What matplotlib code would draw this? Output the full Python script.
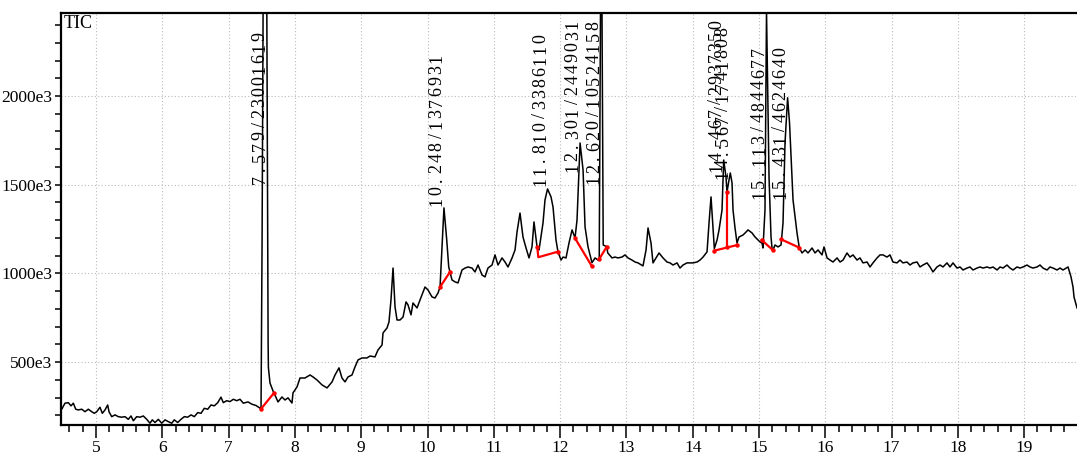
import matplotlib
matplotlib.use('Agg')
import matplotlib.pyplot as plt
from matplotlib.ticker import MultipleLocator, FuncFormatter
from matplotlib.transforms import offset_copy

plt.rcParams['font.family'] = ['Liberation Serif', 'DejaVu Serif']

# retention time (min) and TIC intensity (x1e3 counts)
time_min = [
    4.472, 4.483, 4.532, 4.582, 4.623, 4.658, 4.694, 4.733, 4.784, 4.834, 4.884,
    4.935, 4.974, 5.011, 5.060, 5.095, 5.136, 5.176, 5.196, 5.237, 5.287, 5.336,
    5.388, 5.437, 5.487, 5.528, 5.563, 5.614, 5.664, 5.713, 5.765, 5.814, 5.849,
    5.890, 5.940, 5.991, 6.041, 6.090, 6.142, 6.181, 6.232, 6.282, 6.332, 6.383,
    6.433, 6.483, 6.534, 6.584, 6.633, 6.685, 6.735, 6.784, 6.836, 6.885, 6.920,
    6.971, 7.021, 7.071, 7.122, 7.172, 7.222, 7.293, 7.353, 7.413, 7.489, 7.505,
    7.550, 7.596, 7.600, 7.624, 7.674, 7.685, 7.745, 7.805, 7.850, 7.896, 7.956,
    7.971, 8.032, 8.077, 8.152, 8.228, 8.273, 8.333, 8.409, 8.484, 8.560, 8.605,
    8.665, 8.710, 8.756, 8.801, 8.861, 8.906, 8.952, 9.012, 9.087, 9.133, 9.208,
    9.253, 9.314, 9.329, 9.389, 9.419, 9.449, 9.480, 9.510, 9.540, 9.585, 9.631,
    9.676, 9.706, 9.751, 9.781, 9.842, 9.887, 9.962, 10.008, 10.068, 10.113,
    10.158, 10.189, 10.248, 10.290, 10.320, 10.339, 10.369, 10.415, 10.460,
    10.520, 10.566, 10.611, 10.671, 10.716, 10.762, 10.822, 10.867, 10.912,
    10.973, 11.018, 11.063, 11.124, 11.169, 11.214, 11.275, 11.320, 11.350,
    11.395, 11.440, 11.486, 11.531, 11.576, 11.606, 11.652, 11.682, 11.742,
    11.772, 11.810, 11.863, 11.893, 11.938, 11.968, 12.014, 12.044, 12.089,
    12.134, 12.180, 12.225, 12.255, 12.301, 12.346, 12.376, 12.421, 12.481,
    12.527, 12.572, 12.590, 12.620, 12.650, 12.703, 12.719, 12.783, 12.828,
    12.873, 12.934, 12.979, 13.024, 13.084, 13.130, 13.175, 13.250, 13.296,
    13.326, 13.371, 13.401, 13.446, 13.492, 13.552, 13.612, 13.658, 13.703,
    13.763, 13.808, 13.854, 13.914, 13.959, 14.005, 14.065, 14.110, 14.156,
    14.216, 14.246, 14.276, 14.306, 14.326, 14.367, 14.397, 14.442, 14.467,
    14.502, 14.517, 14.547, 14.567, 14.593, 14.608, 14.638, 14.668, 14.698,
    14.758, 14.804, 14.834, 14.894, 14.940, 14.985, 15.015, 15.045, 15.060,
    15.090, 15.113, 15.151, 15.181, 15.196, 15.211, 15.241, 15.287, 15.332,
    15.362, 15.392, 15.431, 15.460, 15.513, 15.573, 15.608, 15.649, 15.695,
    15.739, 15.800, 15.845, 15.890, 15.950, 15.980, 16.026, 16.071, 16.116,
    16.177, 16.222, 16.267, 16.327, 16.372, 16.418, 16.478, 16.523, 16.569,
    16.629, 16.674, 16.719, 16.780, 16.825, 16.870, 16.930, 16.975, 17.020,
    17.081, 17.126, 17.171, 17.232, 17.277, 17.322, 17.383, 17.428, 17.473,
    17.534, 17.579, 17.624, 17.684, 17.730, 17.775, 17.835, 17.881, 17.926,
    17.986, 18.032, 18.077, 18.137, 18.182, 18.228, 18.288, 18.333, 18.378,
    18.439, 18.484, 18.529, 18.590, 18.635, 18.680, 18.740, 18.786, 18.831,
    18.891, 18.937, 18.982, 19.042, 19.087, 19.133, 19.193, 19.238, 19.283,
    19.344, 19.389, 19.434, 19.495, 19.540, 19.585, 19.661, 19.706, 19.736,
    19.751, 19.796,
]
tic_k = [
    240, 234, 268, 271, 253, 268, 234, 230, 234, 220, 234,
    220, 211, 220, 245, 211, 230, 258, 220, 192, 202, 192,
    189, 192, 177, 196, 169, 192, 189, 196, 177, 155, 174,
    159, 177, 155, 174, 164, 155, 174, 159, 177, 192, 189,
    202, 192, 215, 211, 239, 234, 258, 253, 271, 302, 271,
    282, 277, 290, 282, 290, 268, 275, 262, 255, 236, 1200,
    5000, 600, 470, 382, 333, 326, 275, 303, 286, 298, 269,
    326, 360, 410, 410, 427, 416, 399, 371, 354, 388, 427,
    467, 410, 388, 416, 427, 472, 512, 523, 523, 534, 529,
    568, 596, 664, 692, 726, 850, 1030, 811, 737, 737, 754,
    839, 822, 766, 833, 805, 850, 923, 906, 867, 861,
    889, 923, 1369, 1188, 1036, 1008, 963, 952, 946,
    1019, 1030, 1036, 1030, 1008, 1047, 991, 980, 1030,
    1047, 1104, 1047, 1087, 1064, 1036, 1087, 1132, 1233,
    1340, 1205, 1143, 1087, 1149, 1290, 1149, 1132, 1284,
    1414, 1476, 1431, 1374, 1188, 1121, 1075, 1092, 1087,
    1171, 1245, 1200, 1301, 1735, 1583, 1262, 1149, 1060,
    1087, 1075, 1080, 3300, 1160, 1150, 1115, 1087, 1092,
    1087, 1092, 1104, 1087, 1075, 1064, 1059, 1042, 1132,
    1256, 1171, 1059, 1087, 1115, 1087, 1064, 1059, 1047,
    1059, 1030, 1047, 1059, 1059, 1059, 1064, 1075, 1092,
    1121, 1284, 1431, 1262, 1140, 1188, 1245, 1357, 1639,
    1543, 1459, 1526, 1566, 1510, 1357, 1256, 1171, 1205,
    1216, 1233, 1245, 1228, 1205, 1188, 1177, 1171, 1143,
    1357, 2480, 1543, 1205, 1143, 1132, 1160, 1149, 1160,
    1284, 1735, 1990, 1850, 1414, 1228, 1143, 1115, 1132,
    1115, 1143, 1115, 1132, 1104, 1149, 1087, 1075, 1064,
    1087, 1064, 1075, 1115, 1092, 1104, 1075, 1087, 1059,
    1064, 1036, 1059, 1087, 1104, 1104, 1092, 1104, 1064,
    1059, 1075, 1059, 1064, 1047, 1059, 1064, 1036, 1047,
    1059, 1036, 1008, 1036, 1047, 1036, 1059, 1036, 1059,
    1030, 1036, 1019, 1030, 1036, 1019, 1030, 1036, 1030,
    1036, 1030, 1036, 1019, 1036, 1030, 1047, 1030, 1019,
    1036, 1030, 1036, 1047, 1036, 1030, 1036, 1047, 1030,
    1019, 1036, 1030, 1019, 1030, 1019, 1036, 980, 923,
    867, 805,
]

# integrated peaks: apex time, label text, label start height (x1e3)
peak_times = [7.579, 10.248, 11.810, 12.301, 12.620, 14.467, 14.567, 15.113, 15.431]
peak_labels = ['7.579/23001619', '10.248/1376931', '11.810/3386110',
               '12.301/2449031', '12.620/10524158', '14.467/2937350',
               '14.567/1741808', '15.113/4844677', '15.431/4624640']
label_base = [1498, 1374, 1487, 1566, 1498, 1566, 1526, 1414, 1414]

# integration baselines (red)
base_t = [[7.489, 7.685], [10.189, 10.339], [11.656, 11.671, 11.964],
          [12.225, 12.476], [12.587, 12.703], [14.326, 14.673],
          [14.513, 14.513], [15.040, 15.206], [15.332, 15.608]]
base_y = [[236, 326], [923, 1008], [1147, 1091, 1122],
          [1198, 1042], [1079, 1150], [1128, 1160],
          [1461, 1147], [1188, 1132], [1192, 1145]]

fig = plt.figure(figsize=(10.77, 4.55), dpi=100)
ax = fig.add_axes([61 / 1077, 1 - 425 / 455, 1016 / 1077, 412 / 455])

ax.plot(time_min, tic_k, color='black', lw=1.1, zorder=3)
for bt, by in zip(base_t, base_y):
    ax.plot(bt, by, color='red', lw=1.6, zorder=4)
    ax.plot([bt[0], bt[-1]], [by[0], by[-1]], 'o', color='red', ms=2.2, zorder=4)

ax.set_xlim(4.472, 19.796)
ax.set_ylim(145, 2468)

ax.xaxis.set_major_locator(MultipleLocator(1))
ax.xaxis.set_minor_locator(MultipleLocator(0.2))
ax.yaxis.set_major_locator(MultipleLocator(500))
ax.yaxis.set_minor_locator(MultipleLocator(100))
ax.yaxis.set_major_formatter(FuncFormatter(lambda v, p: f'{v:.0f}e3'))

ax.tick_params(axis='x', which='major', direction='out', length=9, width=1.1,
               labelsize=12.5, pad=2)
ax.tick_params(axis='x', which='minor', direction='out', length=5, width=1.1)
ax.tick_params(axis='y', which='both', direction='out', length=4.5, width=1.1,
               labelsize=12.5, pad=2)

ax.grid(True, which='major', color='#bbbbbb', lw=0.8, linestyle=(0, (1, 2)))
ax.set_axisbelow(True)

for side in ['left', 'bottom', 'top']:
    ax.spines[side].set_linewidth(1.6)
ax.spines['right'].set_visible(False)

ax.text(0.003, 0.995, 'TIC', transform=ax.transAxes, ha='left', va='top',
        fontsize=13)

# peak labels: rotated, spread out at a fixed pitch like the instrument print-out
pitch = 7.9
for t, lab, yb in zip(peak_times, peak_labels, label_base):
    for i, ch in enumerate(lab):
        tr = offset_copy(ax.transData, fig=fig, x=-5, y=(i + 0.5) * pitch,
                         units='points')
        ax.text(t, yb, ch, transform=tr, rotation=90, ha='center',
                va='center', fontsize=13, zorder=5)

fig.savefig('out.png', dpi=100)
